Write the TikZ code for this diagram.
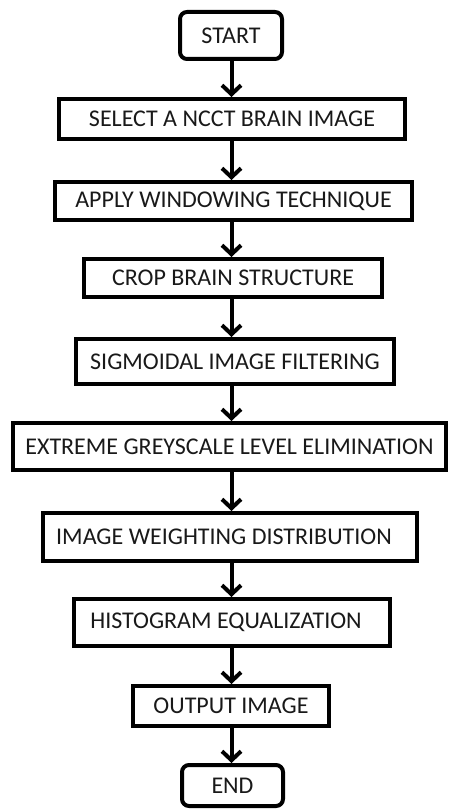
\documentclass[tikz,border=0pt]{standalone}
\usepackage{fontspec}
\setmainfont{Carlito}
\usetikzlibrary{arrows.meta}

\tikzset{
  stepbox/.style={draw=black, line width=4pt, fill=white, inner sep=0pt,
    font=\fontsize{24}{26}\selectfont, text=black!90},
  termbox/.style={stepbox, rounded corners=7pt},
  flow/.style={line width=4pt, -{Straight Barb[length=9pt,width=19pt]}},
}

\begin{document}
\begin{tikzpicture}[x=1pt, y=-1pt]
  \useasboundingbox (0,0) rectangle (450,810);

  \node[termbox, minimum width=102pt, minimum height=47pt] (start) at (231,35.5) {START};
  \node[stepbox, minimum width=346pt, minimum height=40pt] (select) at (232,119) {SELECT A NCCT BRAIN IMAGE};
  \node[stepbox, minimum width=357pt, minimum height=38pt] (window) at (233.5,201) {APPLY WINDOWING TECHNIQUE};
  \node[stepbox, minimum width=298pt, minimum height=38pt] (crop) at (233,278) {CROP BRAIN STRUCTURE};
  \node[stepbox, minimum width=318pt, minimum height=45pt] (sigmoid) at (235,361.5) {SIGMOIDAL IMAGE FILTERING};
  \node[stepbox, minimum width=433pt, minimum height=47pt] (extreme) at (229.5,446.5) {EXTREME GREYSCALE LEVEL ELIMINATION};
  \node[stepbox, minimum width=374pt, minimum height=48pt] (weight) at (230,537) {\hspace*{-12pt}IMAGE WEIGHTING DISTRIBUTION};
  \node[stepbox, minimum width=316pt, minimum height=47pt] (histo) at (232,622.5) {\hspace*{-12pt}HISTOGRAM EQUALIZATION};
  \node[stepbox, minimum width=196pt, minimum height=40pt] (output) at (231,706) {OUTPUT IMAGE};
  \node[termbox, minimum width=101pt, minimum height=41pt] (end) at (232.5,785.5) {END};

  % common vertical line carrying all connectors
  \coordinate (spine) at (231.5,0);

  \foreach \a/\b in {start/select, select/window, window/crop, crop/sigmoid,
                     sigmoid/extreme, extreme/weight, weight/histo,
                     histo/output, output/end}
    \draw[flow] (spine |- \a.south) -- (spine |- \b.north);
\end{tikzpicture}
\end{document}
